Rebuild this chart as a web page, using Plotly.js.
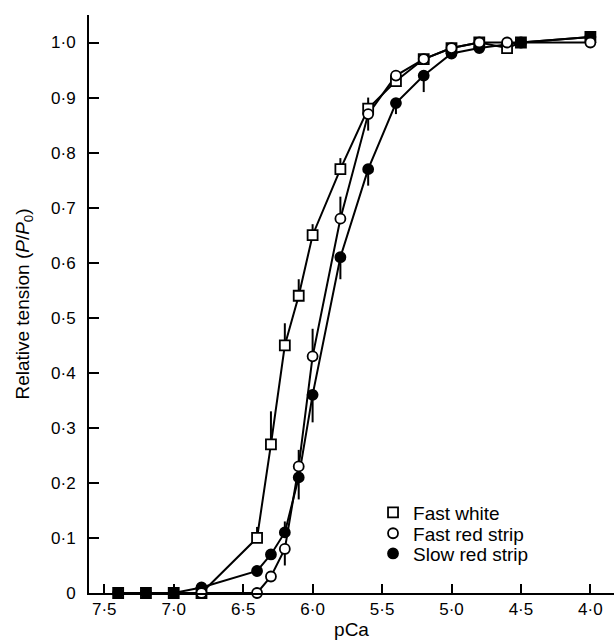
<!DOCTYPE html>
<html>
<head>
<meta charset="utf-8">
<script src="https://cdn.plot.ly/plotly-3.0.1.min.js"></script>
<style>
html,body{margin:0;padding:0;background:#fff;}
#chart{width:614px;height:644px;}
</style>
</head>
<body>
<div id="chart"></div>
<script>
// Fast white (open squares)
const fwX   = [7.4, 7.2, 7.0, 6.8, 6.4, 6.3, 6.2, 6.1, 6.0, 5.8, 5.6, 5.4, 5.2, 5.0, 4.8, 4.6, 4.5, 4.0];
const fwY   = [0, 0, 0, 0, 0.10, 0.27, 0.45, 0.54, 0.65, 0.77, 0.88, 0.93, 0.97, 0.99, 1.00, 0.99, 1.00, 1.01];
const fwUp  = [0, 0, 0, 0, 0.02, 0.06, 0.04, 0.03, 0.02, 0.02, 0.02, 0, 0, 0, 0, 0, 0, 0];
const fwDn  = [0, 0, 0, 0, 0, 0, 0, 0, 0, 0, 0, 0, 0, 0, 0, 0, 0, 0];

// Fast red strip (open circles)
const frX   = [6.8, 6.4, 6.3, 6.2, 6.1, 6.0, 5.8, 5.6, 5.4, 5.2, 5.0, 4.8, 4.6, 4.0];
const frY   = [0, 0, 0.03, 0.08, 0.23, 0.43, 0.68, 0.87, 0.94, 0.97, 0.99, 1.00, 1.00, 1.00];
const frUp  = [0, 0, 0, 0, 0.03, 0.05, 0.04, 0, 0, 0, 0, 0, 0, 0];
const frDn  = [0, 0, 0, 0.03, 0, 0, 0, 0.03, 0, 0, 0, 0, 0, 0];

// Slow red strip (filled circles)
const srX   = [7.4, 7.2, 7.0, 6.8, 6.4, 6.3, 6.2, 6.1, 6.0, 5.8, 5.6, 5.4, 5.2, 5.0, 4.8, 4.5, 4.0];
const srY   = [0, 0, 0, 0.01, 0.04, 0.07, 0.11, 0.21, 0.36, 0.61, 0.77, 0.89, 0.94, 0.98, 0.99, 1.00, 1.01];
const srUp  = [0, 0, 0, 0, 0, 0, 0.02, 0, 0, 0, 0, 0, 0, 0, 0, 0, 0];
const srDn  = [0, 0, 0, 0, 0, 0, 0, 0.04, 0.05, 0.04, 0.03, 0.02, 0.03, 0, 0, 0, 0];

const seriesNames = ['Fast white', 'Fast red strip', 'Slow red strip'];

const xTickVals = [7.5, 7.0, 6.5, 6.0, 5.5, 5.0, 4.5, 4.0];
const xTickText = ['7·5', '7·0', '6·5', '6·0', '5·5', '5·0', '4·5', '4·0'];
const yTickVals = [0, 0.1, 0.2, 0.3, 0.4, 0.5, 0.6, 0.7, 0.8, 0.9, 1.0];
const yTickText = ['0', '0·1', '0·2', '0·3', '0·4', '0·5', '0·6', '0·7', '0·8', '0·9', '1·0'];

const FONT = 'Liberation Sans, Arial, Helvetica, sans-serif';

function lineTrace(x, y) {
  return {x: x, y: y, mode: 'lines', type: 'scatter', showlegend: false,
    line: {color: '#000', width: 2}, cliponaxis: false, hoverinfo: 'skip'};
}
function markTrace(x, y, up, dn, name, symbol, fill, size, legendId) {
  return {x: x, y: y, mode: 'markers', type: 'scatter', name: name,
    legend: legendId, cliponaxis: false,
    marker: {symbol: symbol, size: size, color: fill, line: {color: '#000', width: 1.8}},
    error_y: {type: 'data', symmetric: false, array: up, arrayminus: dn,
      color: '#000', thickness: 2, width: 0}};
}

const data = [
  lineTrace(fwX, fwY),
  lineTrace(srX, srY),
  lineTrace(frX, frY),
  markTrace(fwX, fwY, fwUp, fwDn, seriesNames[0], 'square', '#fff', 10, 'legend'),
  markTrace(srX, srY, srUp, srDn, seriesNames[2], 'circle', '#000', 10, 'legend3'),
  markTrace(frX, frY, frUp, frDn, seriesNames[1], 'circle', '#fff', 10, 'legend2')
];

function legendAt(y) {
  return {x: 0.541, y: y, xanchor: 'left', yanchor: 'top',
    font: {size: 19, family: FONT, color: '#000'}, bgcolor: 'rgba(0,0,0,0)', itemwidth: 30};
}

const layout = {
  width: 614, height: 644,
  margin: {l: 89, r: 0, t: 15, b: 51},
  paper_bgcolor: '#fff', plot_bgcolor: '#fff',
  font: {family: FONT, size: 17, color: '#000'},
  showlegend: true,
  legend: legendAt(0.172),
  legend2: legendAt(0.136),
  legend3: legendAt(0.101),
  xaxis: {
    range: [7.61, 3.83], autorange: false,
    tickvals: xTickVals, ticktext: xTickText,
    ticks: 'inside', ticklen: 9, tickwidth: 2, tickcolor: '#000',
    showline: true, linecolor: '#000', linewidth: 2,
    showgrid: false, zeroline: false,
    tickfont: {size: 17, family: FONT},
    title: {text: 'pCa', font: {size: 19, family: FONT}, standoff: 4}
  },
  yaxis: {
    range: [0, 1.05], autorange: false,
    tickvals: yTickVals, ticktext: yTickText,
    ticks: 'inside', ticklen: 10, tickwidth: 2, tickcolor: '#000',
    showline: true, linecolor: '#000', linewidth: 2,
    showgrid: false, zeroline: false,
    ticklabelstandoff: 8,
    tickfont: {size: 17, family: FONT},
    title: {text: 'Relative tension (<i>P</i>/<i>P</i><sub>0</sub>)', font: {size: 19, family: FONT}, standoff: 16}
  }
};

Plotly.newPlot('chart', data, layout, {displayModeBar: false, staticPlot: true});
</script>
</body>
</html>
